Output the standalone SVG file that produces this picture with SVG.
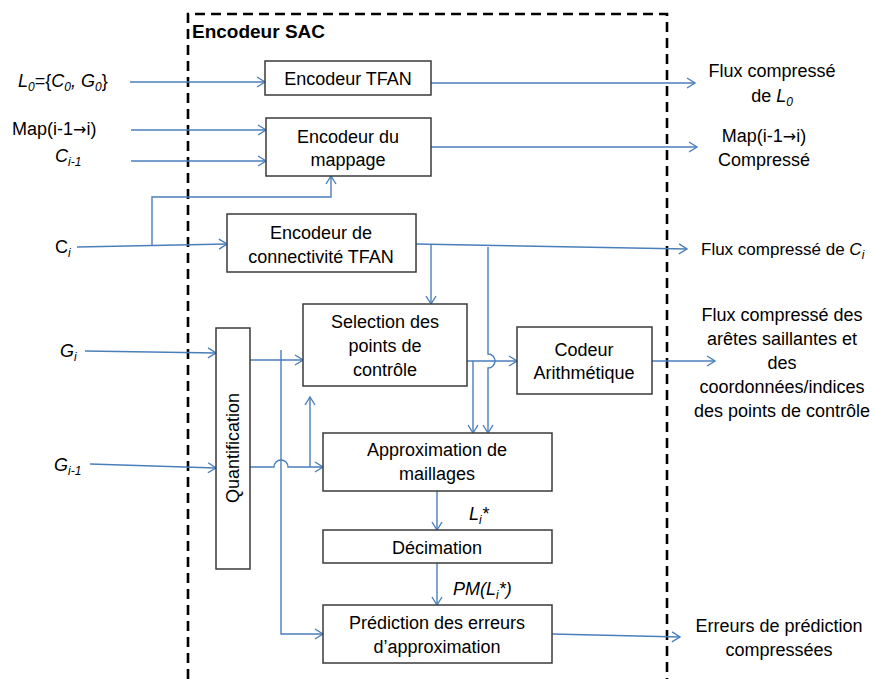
<svg xmlns="http://www.w3.org/2000/svg" width="875" height="679" viewBox="0 0 875 679">
<defs>
<style>
text{font-family:"Liberation Sans",Arial,sans-serif;font-size:18px;fill:#000}
.c{text-anchor:middle}
.i{font-style:italic}
.s{font-size:12px}
.arw{font-family:"DejaVu Sans",sans-serif;font-size:16px}
.box{fill:#fff;stroke:#3a3a3a;stroke-width:1.5}
.ln{fill:none;stroke:#4a7ebb;stroke-width:1.4}
.ar{marker-end:url(#arr)}
.dash{fill:none;stroke:#000;stroke-width:2.6;stroke-dasharray:10 6}
</style>
<marker id="arr" markerUnits="userSpaceOnUse" markerWidth="12" markerHeight="12" refX="9" refY="5" orient="auto" overflow="visible">
<path d="M1,0 L9,5 L1,10" fill="none" stroke="#4a7ebb" stroke-width="1.4"/>
</marker>
</defs>
<rect width="875" height="679" fill="#fff"/>

<g id="sac-frame">
<path class="dash" d="M188,679 V14 H667 V679"/>
<text x="192" y="38" style="font-weight:bold;font-size:19px">Encodeur SAC</text>
</g>

<g id="connectors">
<path class="ln ar" d="M130,82 H265"/>
<path class="ln ar" d="M431,83 H695"/>
<path class="ln ar" d="M131,130 H266"/>
<path class="ln ar" d="M131,161 H266"/>
<path class="ln ar" d="M431,147 H697"/>
<path class="ln ar" d="M77,247 L227,244"/>
<path class="ln ar" d="M152,246 V197 H331 V176"/>
<path class="ln ar" d="M416,244 L687,249"/>
<path class="ln ar" d="M431,244 V304"/>
<path class="ln ar" d="M488,247 V354 A7,7 0 0 1 488,368 V433"/>
<path class="ln ar" d="M467,361 H517"/>
<path class="ln ar" d="M473,361 V433"/>
<path class="ln ar" d="M652,361 H715"/>
<path class="ln ar" d="M250,360 H303"/>
<path class="ln ar" d="M250,467 H274 A7,7 0 0 1 288,467 H323"/>
<path class="ln ar" d="M281,350 V634 H323"/>
<path class="ln ar" d="M310,467 V397"/>
<path class="ln ar" d="M85,351 L216,353"/>
<path class="ln ar" d="M90,464 L216,468"/>
<path class="ln ar" d="M437,491 V530"/>
<path class="ln ar" d="M437,563 V605"/>
<path class="ln ar" d="M552,634 L680,637"/>
</g>

<g id="encodeur-tfan">
<rect class="box" x="265" y="61" width="166" height="34"/>
<text class="c" x="348" y="85">Encodeur TFAN</text>
</g>
<g id="encodeur-mappage">
<rect class="box" x="266" y="118" width="165" height="58"/>
<text class="c" x="348" y="143">Encodeur du</text>
<text class="c" x="348" y="166">mappage</text>
</g>
<g id="encodeur-connectivite">
<rect class="box" x="227" y="214" width="189" height="58"/>
<text class="c" x="321" y="239">Encodeur de</text>
<text class="c" x="321" y="263">connectivité TFAN</text>
</g>
<g id="quantification">
<rect class="box" x="216" y="328" width="34" height="241"/>
<text class="c" transform="translate(239,448) rotate(-90)">Quantification</text>
</g>
<g id="selection">
<rect class="box" x="303" y="304" width="164" height="82"/>
<text class="c" x="385" y="328">Selection des</text>
<text class="c" x="385" y="352">points de</text>
<text class="c" x="385" y="376">contrôle</text>
</g>
<g id="codeur-arithmetique">
<rect class="box" x="517" y="327" width="135" height="67"/>
<text class="c" x="584" y="356">Codeur</text>
<text class="c" x="584" y="379">Arithmétique</text>
</g>
<g id="approximation">
<rect class="box" x="323" y="433" width="229" height="58"/>
<text class="c" x="437" y="456">Approximation de</text>
<text class="c" x="437" y="480">maillages</text>
</g>
<g id="decimation">
<rect class="box" x="323" y="530" width="229" height="33"/>
<text class="c" x="437" y="554">Décimation</text>
</g>
<g id="prediction">
<rect class="box" x="323" y="605" width="229" height="58"/>
<text class="c" x="437" y="629">Prédiction des erreurs</text>
<text class="c" x="437" y="653">d’approximation</text>
</g>

<g id="inputs">
<text x="18" y="87"><tspan class="i">L</tspan><tspan class="i s" dy="4">0</tspan><tspan dy="-4">={</tspan><tspan class="i">C</tspan><tspan class="i s" dy="4">0</tspan><tspan class="i" dy="-4">, G</tspan><tspan class="i s" dy="4">0</tspan><tspan dy="-4">}</tspan></text>
<text x="12" y="135">Map(i-1<tspan class="arw">→</tspan>i)</text>
<text x="55" y="162"><tspan class="i">C</tspan><tspan class="i s" dy="4">i-1</tspan></text>
<text x="55" y="253">C<tspan class="i s" dy="4">i</tspan></text>
<text x="60" y="357"><tspan class="i">G</tspan><tspan class="i s" dy="4">i</tspan></text>
<text x="54" y="471"><tspan class="i">G</tspan><tspan class="i s" dy="4">i-1</tspan></text>
</g>

<g id="mid-labels">
<text x="469" y="520"><tspan class="i">L</tspan><tspan class="i s" dy="4">i</tspan><tspan class="i" dy="-4">*</tspan></text>
<text x="453" y="595"><tspan class="i">PM(L</tspan><tspan class="i s" dy="4">i</tspan><tspan class="i" dy="-4">*)</tspan></text>
</g>

<g id="outputs">
<text class="c" x="772" y="77">Flux compressé</text>
<text class="c" x="772" y="102">de <tspan class="i">L</tspan><tspan class="i s" dy="4">0</tspan></text>
<text class="c" x="764" y="142">Map(i-1<tspan class="arw">→</tspan>i)</text>
<text class="c" x="764" y="166">Compressé</text>
<text x="701" y="255" style="font-size:17px">Flux compressé de <tspan class="i">C</tspan><tspan class="i s" dy="4">i</tspan></text>
<text class="c" x="782" y="321">Flux compressé des</text>
<text class="c" x="782" y="345">arêtes saillantes et</text>
<text class="c" x="782" y="369">des</text>
<text class="c" x="782" y="393">coordonnées/indices</text>
<text class="c" x="782" y="417">des points de contrôle</text>
<text class="c" x="779" y="632">Erreurs de prédiction</text>
<text class="c" x="779" y="656">compressées</text>
</g>
</svg>
